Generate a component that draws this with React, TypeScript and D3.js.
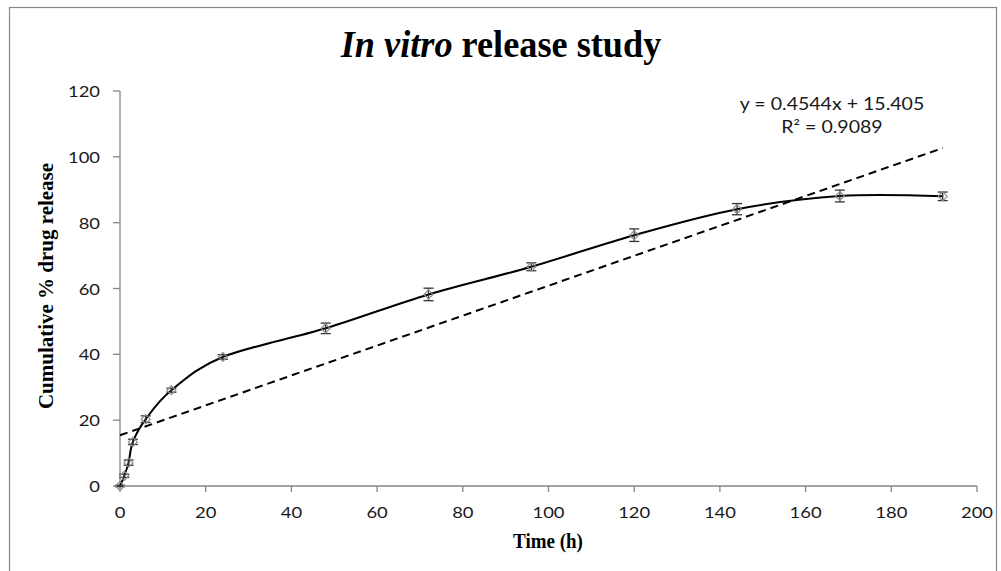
import React from "react";
import * as d3 from "d3";

// Sampling times (h) and mean cumulative release (%) with SD
const hours = [0, 1, 2, 3, 6, 12, 24, 48, 72, 96, 120, 144, 168, 192];
const release = [0, 3.1, 7.1, 13.4, 20.3, 29.1, 39.2, 47.9, 58.2, 66.6, 76.2, 84.1, 88.1, 88.0];
const sd = [0.2, 0.5, 0.8, 0.8, 1.0, 0.6, 0.7, 1.6, 1.9, 1.2, 1.9, 1.7, 1.8, 1.3];

// Linear trend line fitted to the release profile
const slope = 0.4544;
const intercept = 15.405;
const rSquared = 0.9089;

const xTicks = [0, 20, 40, 60, 80, 100, 120, 140, 160, 180, 200];
const yTicks = [0, 20, 40, 60, 80, 100, 120];

const W = 1001;
const H = 571;

const x = d3.scaleLinear().domain([0, 200]).range([120, 977]);
const y = d3.scaleLinear().domain([0, 120]).range([486, 91]);

const points = hours.map((h, i) => [h, release[i]] as [number, number]);

const releaseLine = d3
  .line<[number, number]>()
  .x((d) => x(d[0]))
  .y((d) => y(d[1]))
  .curve(d3.curveCatmullRom.alpha(0));

const trendPath = d3
  .line<number>()
  .x((h) => x(h))
  .y((h) => y(slope * h + intercept))([hours[0], hours[hours.length - 1]]);

const axisColor = "#868686";
const labelFont = "Lato, 'Open Sans', sans-serif";
const serif = "'Liberation Serif', 'Times New Roman', serif";

function StretchText(props: {
  x: number;
  y: number;
  sx?: number;
  anchor?: "start" | "middle" | "end";
  size: number;
  family: string;
  weight?: string | number;
  fill?: string;
  rotate?: number;
  children: React.ReactNode;
}) {
  const { x: tx, y: ty, sx = 1.15, anchor = "middle", size, family, weight = "normal", fill = "#1a1a1a", rotate = 0, children } = props;
  return (
    <text
      transform={`translate(${tx},${ty}) scale(${sx},1)${rotate ? ` rotate(${rotate})` : ""}`}
      textAnchor={anchor}
      fontSize={size}
      fontFamily={family}
      fontWeight={weight}
      fill={fill}
    >
      {children}
    </text>
  );
}

export default function App() {
  const d = 4.5; // marker half-diagonal
  return (
    <svg
      width={W}
      height={H}
      style={{ position: "absolute", left: 0, top: 0, background: "#fff" }}
    >
      <rect x={9.5} y={7.5} width={987} height={620} fill="#fff" stroke="#898989" strokeWidth={1.2} />

      {/* Title */}
      <StretchText x={501} y={57} sx={0.93} size={39} family={serif} weight="bold" fill="#000">
        <tspan fontStyle="italic">In vitro</tspan>
        <tspan> release study</tspan>
      </StretchText>

      {/* Axes */}
      <line x1={x(0)} x2={x(200)} y1={y(0)} y2={y(0)} stroke={axisColor} strokeWidth={1.3} />
      <line x1={x(0)} x2={x(0)} y1={y(0)} y2={y(120)} stroke={axisColor} strokeWidth={1.3} />
      {xTicks.map((t) => (
        <g key={`xt${t}`}>
          <line x1={x(t)} x2={x(t)} y1={y(0)} y2={y(0) + 6} stroke={axisColor} strokeWidth={1.3} />
          <StretchText x={x(t)} y={518} size={16} family={labelFont}>
            {t}
          </StretchText>
        </g>
      ))}
      {yTicks.map((t) => (
        <g key={`yt${t}`}>
          <line x1={x(0) - 7} x2={x(0)} y1={y(t)} y2={y(t)} stroke={axisColor} strokeWidth={1.3} />
          <StretchText x={100} y={y(t) + 6} size={16} family={labelFont} anchor="end">
            {t}
          </StretchText>
        </g>
      ))}

      {/* Axis titles */}
      <StretchText x={548} y={548} sx={0.95} size={20} family={serif} weight="bold" fill="#000">
        Time (h)
      </StretchText>
      <StretchText x={53} y={286} sx={0.95} size={21} family={serif} weight="bold" fill="#000" rotate={-90}>
        Cumulative % drug release
      </StretchText>

      {/* Trend line */}
      <path d={trendPath ?? ""} fill="none" stroke="#000" strokeWidth={2} strokeDasharray="8,5" />

      {/* Release profile */}
      <path d={releaseLine(points) ?? ""} fill="none" stroke="#000" strokeWidth={2} />

      {/* Error bars */}
      {points.map(([h, v], i) => {
        const cx = x(h);
        const y1 = y(v + sd[i]);
        const y2 = y(v - sd[i]);
        return (
          <g key={`eb${i}`} stroke="#333" strokeWidth={1.3}>
            <line x1={cx} x2={cx} y1={y1} y2={y2} />
            <line x1={cx - 5} x2={cx + 5} y1={y1} y2={y1} />
            <line x1={cx - 5} x2={cx + 5} y1={y2} y2={y2} />
          </g>
        );
      })}

      {/* Markers */}
      {points.map(([h, v], i) => {
        const cx = x(h);
        const cy = y(v);
        return (
          <path
            key={`mk${i}`}
            d={`M${cx},${cy - d}L${cx + d},${cy}L${cx},${cy + d}L${cx - d},${cy}Z`}
            fill="none"
            stroke="#8c8c8c"
            strokeWidth={1.2}
          />
        );
      })}

      {/* Trend equation */}
      <StretchText x={832} y={110} size={17} family={labelFont}>
        {`y = ${slope}x + ${intercept}`}
      </StretchText>
      <StretchText x={832} y={133} size={17} family={labelFont}>
        R² = {rSquared}
      </StretchText>
    </svg>
  );
}
